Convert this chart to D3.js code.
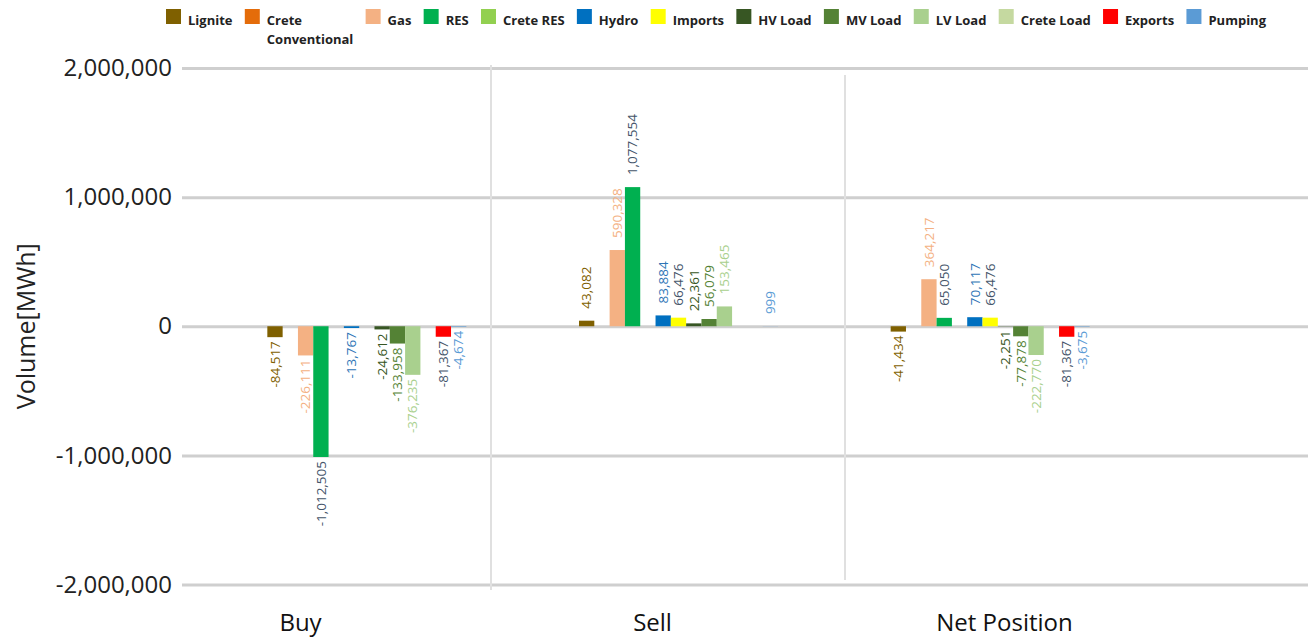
<!DOCTYPE html>
<html>
<head>
<meta charset="utf-8">
<script src="https://cdn.jsdelivr.net/npm/d3@7"></script>
<style>
  body { margin: 0; background: #fff; }
  svg { display: block; font-family: "Open Sans", "Noto Sans", sans-serif; }
  svg .tick text { font-family: "Open Sans", "Noto Sans", sans-serif; }
</style>
</head>
<body>
<div id="chart"></div>
<script>
// categories and series
const groups = ["Buy", "Sell", "Net Position"];
const series = ["Lignite", "Crete Conventional", "Gas", "RES", "Crete RES", "Hydro", "Imports",
                "HV Load", "MV Load", "LV Load", "Crete Load", "Exports", "Pumping"];

// values per group, in series order (MWh)
const buyValues  = [-84517, 0, -226111, -1012505, 0, -13767, 0, -24612, -133958, -376235, 0, -81367, -4674];
const sellValues = [43082, 0, 590328, 1077554, 0, 83884, 66476, 22361, 56079, 153465, 0, 0, 999];
const netValues  = [-41434, 0, 364217, 65050, 0, 70117, 66476, -2251, -77878, -222770, 0, -81367, -3675];

const yTicks = [-2000000, -1000000, 0, 1000000, 2000000];

const barColors   = ["#7f6000", "#e46c0a", "#f4b183", "#00b050", "#92d050", "#0070c0", "#ffff00",
                     "#375623", "#548235", "#a9d08e", "#c5d9a0", "#ff0000", "#5b9bd5"];
const labelColors = ["#7f6000", "#e46c0a", "#f4b183", "#44546a", "#92d050", "#2e75b6", "#44546a",
                     "#375623", "#548235", "#a9d08e", "#c5d9a0", "#44546a", "#5b9bd5"];

const valuesByGroup = { "Buy": buyValues, "Sell": sellValues, "Net Position": netValues };

const W = 1311, H = 641;
const gridLeft = 182, gridRight = 1308;
const FONT = '"Open Sans", "Noto Sans", sans-serif';

const svg = d3.select("#chart").append("svg")
    .attr("width", W)
    .attr("height", H);

// number format with a plain hyphen for negatives
const fmt = d3.formatLocale({ decimal: ".", thousands: ",", grouping: [3], currency: ["", ""], minus: "-" })
    .format(",");

// scales
const y = d3.scaleLinear().domain([-2000000, 2000000]).range([584.5, 68]);

const x0 = d3.scaleBand().domain(groups).range([211, 1146]);
const x1 = d3.scaleBand().domain(series)
    .range([0, x0.bandwidth()])
    .paddingInner(0)
    .paddingOuter(3.68);

// category label positions and separators follow the original layout
const xLab = d3.scalePoint().domain(groups).range([300, 1004]);
const xSep = d3.scaleBand().domain(groups).range([137, 1199]);

// y axis + gridlines
const yAxis = svg.append("g")
    .attr("transform", `translate(${gridLeft},0)`)
    .call(d3.axisLeft(y)
        .tickValues(yTicks)
        .tickSize(-(gridRight - gridLeft))
        .tickPadding(10)
        .tickFormat(fmt));
yAxis.attr("font-family", FONT);
yAxis.select(".domain").remove();
yAxis.selectAll(".tick line")
    .attr("stroke", "#cfcfcf")
    .attr("stroke-width", 3);
yAxis.selectAll(".tick text")
    .style("font-size", "24px")
    .style("fill", "#222");

// vertical separators
[[groups[1], 65, 590], [groups[2], 75, 580]].forEach(([g, y1, y2]) => {
  svg.append("line")
    .attr("x1", xSep(g)).attr("x2", xSep(g))
    .attr("y1", y1).attr("y2", y2)
    .attr("stroke", "#e0e0e0")
    .attr("stroke-width", 2);
});

// axis title
svg.append("text")
    .attr("transform", `translate(26,${y(0)}) rotate(-90)`)
    .attr("text-anchor", "middle")
    .attr("dy", "0.35em")
    .style("font-size", "25px")
    .style("fill", "#222")
    .text("Volume[MWh]");

// category labels
const xAxis = svg.append("g")
    .attr("transform", "translate(0,614)")
    .call(d3.axisBottom(xLab).tickSize(0).tickPadding(0));
xAxis.attr("font-family", FONT);
xAxis.select(".domain").remove();
xAxis.selectAll(".tick text")
    .style("font-size", "24px")
    .style("fill", "#111");

// bars
const rows = [];
groups.forEach(g => {
  series.forEach((s, i) => {
    rows.push({ group: g, series: s, i: i, value: valuesByGroup[g][i] });
  });
});

const bars = svg.append("g");
bars.selectAll("rect")
  .data(rows.filter(d => d.value !== 0))
  .join("rect")
    .attr("x", d => x0(d.group) + x1(d.series))
    .attr("width", x1.bandwidth())
    .attr("y", d => Math.min(y(d.value), y(0)))
    .attr("height", d => Math.abs(y(d.value) - y(0)))
    .attr("fill", d => barColors[d.i]);

// value labels
svg.append("g").selectAll("text")
  .data(rows.filter(d => d.value !== 0))
  .join("text")
    .attr("transform", d => {
      const cx = x0(d.group) + x1(d.series) + x1.bandwidth() / 2;
      const ty = d.value > 0 ? y(d.value) - 12 : y(d.value) + 4;
      return `translate(${cx},${ty}) rotate(-90)`;
    })
    .attr("dy", "0.35em")
    .attr("text-anchor", d => d.value > 0 ? "start" : "end")
    .style("font-size", "13.5px")
    .style("fill", d => labelColors[d.i])
    .text(d => fmt(d.value));

// legend, laid out as a flowing row between the original left and right ends
const legendLeft = 166, legendRight = 1266;
const sq = 15, sqGap = 7;
const legend = svg.append("g");

const items = series.map((s, i) => {
  const g = legend.append("g");
  g.append("rect")
    .attr("width", sq).attr("height", sq)
    .attr("y", 9)
    .attr("fill", barColors[i]);
  const t = g.append("text")
    .attr("x", sq + sqGap)
    .attr("y", 24.5)
    .style("font-size", "13px")
    .style("font-weight", "700")
    .style("fill", "#222")
    .text(s);
  let w = t.node().getComputedTextLength();
  if (w > 90) {
    // wrap long names onto a second line
    const words = s.split(" ");
    t.text(words[0]);
    const t2 = g.append("text")
      .attr("x", sq + sqGap)
      .attr("y", 44)
      .style("font-size", "13px")
      .style("font-weight", "700")
      .style("fill", "#222")
      .text(words.slice(1).join(" "));
    w = Math.max(t.node().getComputedTextLength(), t2.node().getComputedTextLength());
  }
  return { g, w: sq + sqGap + w };
});

const used = d3.sum(items, d => d.w);
const gap = (legendRight - legendLeft - used) / (items.length - 1);
let lx = legendLeft;
items.forEach(it => {
  it.g.attr("transform", `translate(${lx},0)`);
  lx += it.w + gap;
});
</script>
</body>
</html>
